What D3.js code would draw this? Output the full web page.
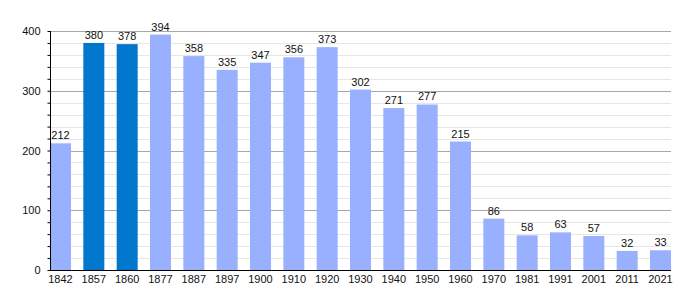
<!DOCTYPE html>
<html>
<head>
<meta charset="utf-8">
<script src="https://cdn.jsdelivr.net/npm/d3@7"></script>
<style>
  body { margin: 0; background: #fff; }
  svg { display: block; font-family: "Liberation Sans", Arial, sans-serif; }
</style>
</head>
<body>
<svg id="chart" width="700" height="300"></svg>
<script>
const years = ["1842", "1857", "1860", "1877", "1887", "1897", "1900", "1910", "1920",
  "1930", "1940", "1950", "1960", "1970", "1981", "1991", "2001", "2011", "2021"];
const population = [212, 380, 378, 394, 358, 335, 347, 356, 373,
  302, 271, 277, 215, 86, 58, 63, 57, 32, 33];
const highlighted = ["1857", "1860"];
const majorTicks = [0, 100, 200, 300, 400];

const margin = { top: 31, left: 50, bottom: 30 };
const height = 300;
const plotRight = 671;

const svg = d3.select("#chart");

const x = d3.scaleBand()
  .domain(years)
  .range([margin.left, plotRight])
  .paddingInner(0.37)
  .paddingOuter(0);

const y = d3.scaleLinear()
  .domain([0, 400])
  .range([height - margin.bottom, margin.top]);

// minor grid every 20
const grid = svg.append("g");
grid.selectAll("line.minor")
  .data(d3.range(20, 401, 20).filter(d => d % 100 !== 0))
  .join("line")
  .attr("class", "minor")
  .attr("x1", margin.left).attr("x2", plotRight)
  .attr("y1", d => Math.round(y(d)) + 0.5).attr("y2", d => Math.round(y(d)) + 0.5)
  .attr("stroke", "#e6e6e6");

grid.selectAll("line.major")
  .data(majorTicks.slice(1))
  .join("line")
  .attr("class", "major")
  .attr("x1", margin.left).attr("x2", plotRight)
  .attr("y1", d => Math.round(y(d)) + 0.5).attr("y2", d => Math.round(y(d)) + 0.5)
  .attr("stroke", "#a8a8a8");

// bars
svg.append("g")
  .selectAll("rect")
  .data(years)
  .join("rect")
  .attr("x", d => x(d))
  .attr("width", x.bandwidth())
  .attr("y", (d, i) => y(population[i]))
  .attr("height", (d, i) => y(0) - y(population[i]))
  .attr("fill", d => highlighted.includes(d) ? "#0077cc" : "#99b0ff");

// value labels
svg.append("g")
  .selectAll("text")
  .data(years)
  .join("text")
  .attr("x", d => x(d) + x.bandwidth() / 2)
  .attr("y", (d, i) => y(population[i]) - 4)
  .attr("text-anchor", "middle")
  .attr("font-size", 11)
  .attr("fill", "#111")
  .text((d, i) => population[i]);

// y axis with minor ticks
const yAxisG = svg.append("g")
  .attr("transform", `translate(${margin.left + 0.5},0)`);
yAxisG.call(d3.axisLeft(y).tickValues(d3.range(0, 401, 20)).tickSize(3).tickFormat(""))
  .call(g => g.select(".domain").remove());
yAxisG.selectAll(".tick line").attr("stroke", "#000");
yAxisG.append("line")
  .attr("y1", y(400)).attr("y2", y(0))
  .attr("stroke", "#000");
yAxisG.selectAll("text.lbl")
  .data(majorTicks)
  .join("text")
  .attr("class", "lbl")
  .attr("x", -10)
  .attr("y", d => y(d) + 4)
  .attr("text-anchor", "end")
  .attr("font-size", 11)
  .attr("fill", "#111")
  .text(d => d);

// x axis
const xAxisG = svg.append("g")
  .attr("transform", `translate(0,${y(0) + 0.5})`);
xAxisG.append("line")
  .attr("x1", margin.left).attr("x2", plotRight)
  .attr("stroke", "#000");
xAxisG.selectAll("text")
  .data(years)
  .join("text")
  .attr("x", d => x(d) + x.bandwidth() / 2)
  .attr("y", 12.5)
  .attr("text-anchor", "middle")
  .attr("font-size", 11)
  .attr("fill", "#111")
  .text(d => d);
</script>
</body>
</html>
